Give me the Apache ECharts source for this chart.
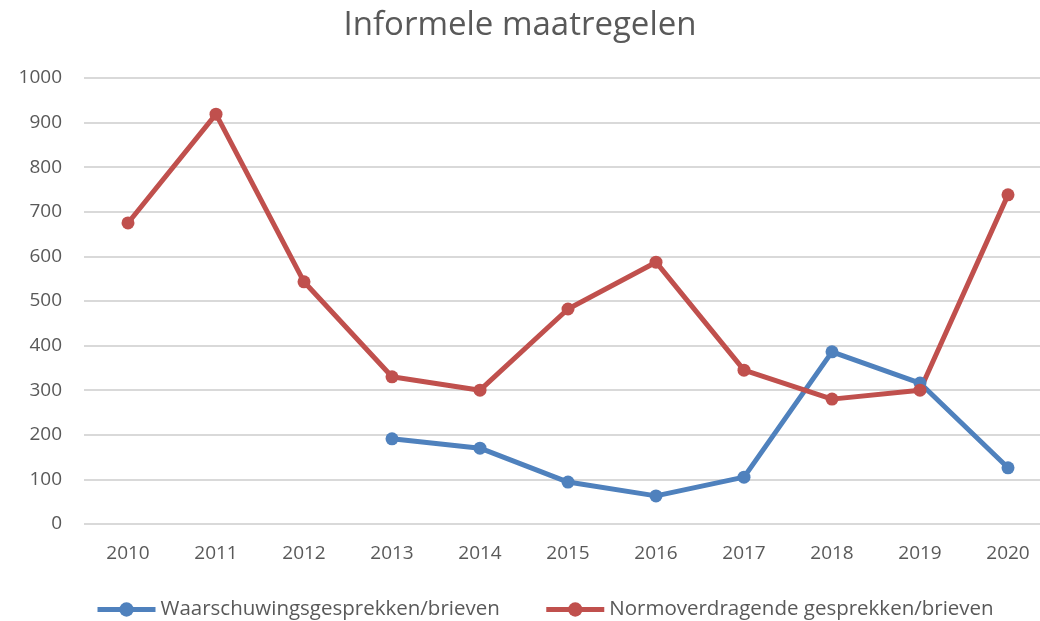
<!DOCTYPE html>
<html><head><meta charset="utf-8">
<script src="https://cdn.jsdelivr.net/npm/echarts@6/dist/echarts.min.js"></script>
<style>html,body{margin:0;padding:0;background:#fff}#c{width:1040px;height:621px}</style>
</head><body><div id="c"></div>
<script>
const years = ['2010','2011','2012','2013','2014','2015','2016','2017','2018','2019','2020'];
const waarschuwing = [null, null, null, 191, 170, 94, 63, 105, 386, 316, 126];
const normoverdragend = [675, 919, 543, 330, 300, 482, 587, 345, 280, 300, 738];
const yTicks = [0, 100, 200, 300, 400, 500, 600, 700, 800, 900, 1000];
const FONT = "'Open Sans', sans-serif";
const chart = echarts.init(document.getElementById('c'));
chart.setOption({
  animation: false,
  title: {text: 'Informele maatregelen', left: 'center', top: 4,
    textStyle: {fontFamily: FONT, fontSize: 33, fontWeight: 'normal', color: '#595959'}},
  grid: {left: 84, top: 78, width: 968, height: 446, outerBoundsMode: 'none', containLabel: false},
  legend: {top: 594, left: 90, itemGap: 44, itemWidth: 58, itemHeight: 18,
    lineStyle: {width: 5},
    textStyle: {fontFamily: FONT, fontSize: 20.5, color: '#595959'}},
  xAxis: {type: 'category', data: years, boundaryGap: true,
    axisLine: {show: false}, axisTick: {show: false},
    axisLabel: {fontFamily: FONT, fontSize: 19, color: '#595959', margin: 20}},
  yAxis: {type: 'value', min: yTicks[0], max: yTicks[yTicks.length-1], interval: 100,
    axisLabel: {fontFamily: FONT, fontSize: 19, color: '#595959', margin: 22,
      formatter: v => String(v)},
    splitLine: {lineStyle: {color: '#d9d9d9', width: 2}}},
  series: [
    {name: 'Waarschuwingsgesprekken/brieven', type: 'line', data: waarschuwing,
     symbol: 'circle', symbolSize: 13, lineStyle: {width: 5, color: '#4F81BD'},
     itemStyle: {color: '#4F81BD'}, connectNulls: false},
    {name: 'Normoverdragende gesprekken/brieven', type: 'line', data: normoverdragend,
     symbol: 'circle', symbolSize: 13, lineStyle: {width: 5, color: '#C0504D'},
     itemStyle: {color: '#C0504D'}}
  ]
});
</script></body></html>
